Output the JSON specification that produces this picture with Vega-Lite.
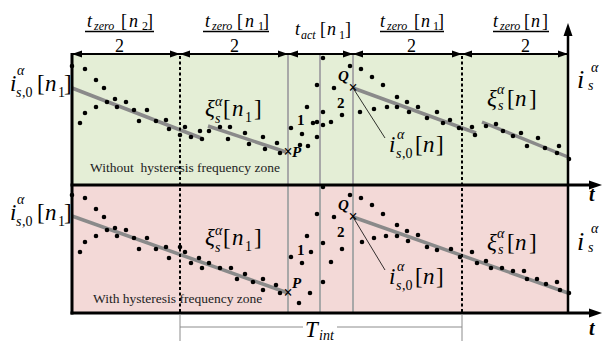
{
 "$schema": "https://vega.github.io/schema/vega-lite/v6.json",
 "width": 606, "height": 346, "padding": 0, "autosize": {"type": "none"},
 "background": "white",
 "config": {"view": {"stroke": null}, "text": {"font": "Liberation Serif, Times New Roman, serif"}},
 "datasets": {
  "zones": [
   {"zone": "without", "x": 72, "x2": 568, "y": 54, "y2": 185},
   {"zone": "with", "x": 72, "x2": 568, "y": 185, "y2": 313}
  ],
  "lines": [
   {"k": "fit", "x": 72, "y": 88, "x2": 201, "y2": 138},
   {"k": "fit", "x": 208, "y": 126, "x2": 286, "y2": 152},
   {"k": "fit", "x": 353, "y": 88, "x2": 476, "y2": 133},
   {"k": "fit", "x": 482, "y": 122, "x2": 568, "y2": 157},
   {"k": "fit", "x": 72, "y": 216, "x2": 288, "y2": 293},
   {"k": "fit", "x": 353, "y": 217, "x2": 568, "y2": 293},
   {"k": "gray", "x": 288, "y": 55, "x2": 288, "y2": 312},
   {"k": "gray", "x": 320, "y": 55, "x2": 320, "y2": 312},
   {"k": "gray", "x": 353, "y": 55, "x2": 353, "y2": 312},
   {"k": "dot", "x": 180, "y": 56, "x2": 180, "y2": 312},
   {"k": "dot", "x": 462, "y": 56, "x2": 462, "y2": 312},
   {"k": "thick", "x": 72, "y": 53, "x2": 72, "y2": 314.5},
   {"k": "thick", "x": 70.5, "y": 185, "x2": 596, "y2": 185},
   {"k": "thick", "x": 70.5, "y": 313, "x2": 596, "y2": 313},
   {"k": "axis", "x": 568, "y": 314, "x2": 568, "y2": 30},
   {"k": "dim", "x": 72, "y": 54, "x2": 568, "y2": 54},
   {"k": "thin", "x": 353, "y": 88, "x2": 385, "y2": 138},
   {"k": "thin", "x": 353, "y": 217, "x2": 385, "y2": 270},
   {"k": "bar", "x": 85, "y": 31.5, "x2": 154, "y2": 31.5},
   {"k": "bar", "x": 203, "y": 31.5, "x2": 269, "y2": 31.5},
   {"k": "bar", "x": 380, "y": 31.5, "x2": 444, "y2": 31.5},
   {"k": "bar", "x": 493, "y": 31.5, "x2": 549, "y2": 31.5},
   {"k": "tint", "x": 180, "y": 314, "x2": 180, "y2": 341},
   {"k": "tint", "x": 462, "y": 314, "x2": 462, "y2": 341},
   {"k": "tint", "x": 180, "y": 327, "x2": 303, "y2": 327},
   {"k": "tint", "x": 337, "y": 327, "x2": 462, "y2": 327}
  ],
  "dots": [
   {"x":72,"y":66},{"x":85,"y":69},{"x":96,"y":80},{"x":104,"y":88},{"x":80,"y":123},{"x":85,"y":113},{"x":96,"y":107},{"x":107,"y":102},{"x":115,"y":99},{"x":126,"y":102},{"x":117,"y":107},{"x":134,"y":110},{"x":147,"y":110},{"x":139,"y":121},{"x":156,"y":121},{"x":166,"y":120},{"x":169,"y":129},{"x":180,"y":135},{"x":185,"y":127},{"x":191,"y":137},{"x":200,"y":131},{"x":202,"y":139},{"x":209,"y":131},{"x":220,"y":127},{"x":230,"y":127},{"x":228,"y":139},{"x":245,"y":133},{"x":249,"y":144},{"x":263,"y":137},{"x":265,"y":149},{"x":277,"y":143},{"x":280,"y":153},
   {"x":291,"y":128},{"x":302,"y":134},{"x":300,"y":145},{"x":308,"y":146},{"x":307,"y":107},{"x":313,"y":123},{"x":317,"y":122},{"x":317,"y":137},{"x":317,"y":85},{"x":323,"y":58},{"x":323,"y":112},{"x":323,"y":125},{"x":331,"y":122},{"x":334,"y":88},{"x":342,"y":115},{"x":350,"y":66},
   {"x":361,"y":69},{"x":372,"y":77},{"x":383,"y":85},{"x":397,"y":97},{"x":407,"y":102},{"x":418,"y":107},{"x":427,"y":118},{"x":437,"y":112},{"x":443,"y":123},{"x":450,"y":120},{"x":459,"y":128},{"x":472,"y":127},{"x":475,"y":135},{"x":360,"y":112},{"x":374,"y":109},{"x":387,"y":107},{"x":397,"y":107},{"x":409,"y":112},
   {"x":486,"y":126},{"x":496,"y":124},{"x":503,"y":131},{"x":513,"y":136},{"x":521,"y":133},{"x":527,"y":146},{"x":538,"y":138},{"x":545,"y":148},{"x":559,"y":146},{"x":557,"y":153},{"x":569,"y":159},
   {"x":72,"y":195},{"x":85,"y":198},{"x":96,"y":209},{"x":104,"y":217},{"x":80,"y":252},{"x":85,"y":242},{"x":96,"y":236},{"x":107,"y":230},{"x":115,"y":228},{"x":126,"y":230},{"x":117,"y":236},{"x":134,"y":238},{"x":147,"y":238},{"x":139,"y":249},{"x":156,"y":249},{"x":166,"y":247},{"x":169,"y":258},{"x":180,"y":247},{"x":185,"y":252},{"x":191,"y":263},{"x":199,"y":258},{"x":202,"y":268},{"x":209,"y":263},{"x":220,"y":268},{"x":231,"y":268},{"x":237,"y":279},{"x":245,"y":274},{"x":253,"y":282},{"x":263,"y":279},{"x":263,"y":290},{"x":276,"y":285},{"x":280,"y":293},
   {"x":291,"y":257},{"x":302,"y":263},{"x":299,"y":303},{"x":310,"y":293},{"x":307,"y":236},{"x":311,"y":252},{"x":317,"y":214},{"x":323,"y":187},{"x":323,"y":243},{"x":323,"y":282},{"x":331,"y":262},{"x":334,"y":217},{"x":342,"y":249},{"x":350,"y":195},
   {"x":361,"y":198},{"x":372,"y":205},{"x":383,"y":214},{"x":397,"y":225},{"x":407,"y":231},{"x":418,"y":235},{"x":427,"y":247},{"x":437,"y":250},{"x":451,"y":249},{"x":460,"y":257},{"x":472,"y":252},{"x":477,"y":263},{"x":486,"y":261},{"x":491,"y":268},{"x":502,"y":268},{"x":513,"y":271},{"x":524,"y":271},{"x":527,"y":279},{"x":537,"y":279},{"x":546,"y":284},{"x":557,"y":282},{"x":560,"y":290},{"x":569,"y":293},{"x":362,"y":242},{"x":374,"y":238},{"x":386,"y":236},{"x":397,"y":236},{"x":408,"y":241}
  ],
  "arrows": [
   {"d": "l", "x": 72, "y": 54}, {"d": "r", "x": 180, "y": 54}, {"d": "l", "x": 180, "y": 54},
   {"d": "r", "x": 288, "y": 54}, {"d": "l", "x": 288, "y": 54}, {"d": "r", "x": 353, "y": 54},
   {"d": "l", "x": 353, "y": 54}, {"d": "r", "x": 462, "y": 54}, {"d": "l", "x": 462, "y": 54},
   {"d": "r", "x": 568, "y": 54},
   {"d": "R", "x": 602, "y": 185}, {"d": "R", "x": 602, "y": 313}, {"d": "U", "x": 568, "y": 23}
  ],
  "texts": [
   {"k":"m18","x":87,"y":27,"t":"t"},{"k":"s12","x":94,"y":29.5,"t":"zero"},{"k":"r18","x":121,"y":27,"t":"["},{"k":"m18","x":129,"y":27,"t":"n"},{"k":"sr12","x":142,"y":30,"t":"2"},{"k":"r18","x":147,"y":27,"t":"]"},{"k":"r18","x":115,"y":51.5,"t":"2"},
   {"k":"m18","x":205,"y":27,"t":"t"},{"k":"s12","x":212,"y":29.5,"t":"zero"},{"k":"r18","x":237,"y":27,"t":"["},{"k":"m18","x":245,"y":27,"t":"n"},{"k":"sr12","x":258,"y":30,"t":"1"},{"k":"r18","x":263,"y":27,"t":"]"},{"k":"r18","x":230,"y":51.5,"t":"2"},
   {"k":"m18","x":295,"y":35,"t":"t"},{"k":"s12","x":301,"y":38.5,"t":"act"},{"k":"r18","x":320,"y":35,"t":"["},{"k":"m18","x":327,"y":35,"t":"n"},{"k":"sr12","x":339,"y":38.5,"t":"1"},{"k":"r18","x":345,"y":35,"t":"]"},
   {"k":"m18","x":380,"y":27,"t":"t"},{"k":"s12","x":387,"y":29.5,"t":"zero"},{"k":"r18","x":414,"y":27,"t":"["},{"k":"m18","x":421,"y":27,"t":"n"},{"k":"sr12","x":433,"y":30,"t":"1"},{"k":"r18","x":438,"y":27,"t":"]"},{"k":"r18","x":407,"y":51.5,"t":"2"},
   {"k":"m18","x":493,"y":27,"t":"t"},{"k":"s12","x":500,"y":29.5,"t":"zero"},{"k":"r18","x":524,"y":27,"t":"["},{"k":"m18","x":531,"y":27,"t":"n"},{"k":"r18","x":542,"y":27,"t":"]"},{"k":"r18","x":521,"y":51.5,"t":"2"},
   {"k":"m23","x":10,"y":91,"t":"i"},{"k":"s14","x":17,"y":75,"t":"α"},{"k":"s14","x":16,"y":97,"t":"s"},{"k":"sr14","x":22,"y":97,"t":",0"},{"k":"r23","x":37,"y":91,"t":"["},{"k":"m23","x":45,"y":91,"t":"n"},{"k":"sr14","x":58,"y":97,"t":"1"},{"k":"r23","x":64,"y":91,"t":"]"},
   {"k":"m23","x":10,"y":220,"t":"i"},{"k":"s14","x":17,"y":204,"t":"α"},{"k":"s14","x":16,"y":226,"t":"s"},{"k":"sr14","x":22,"y":226,"t":",0"},{"k":"r23","x":37,"y":220,"t":"["},{"k":"m23","x":45,"y":220,"t":"n"},{"k":"sr14","x":58,"y":226,"t":"1"},{"k":"r23","x":64,"y":220,"t":"]"},
   {"k":"m23","x":205,"y":116,"t":"ξ"},{"k":"s14","x":215,"y":106,"t":"α"},{"k":"s14","x":215,"y":123,"t":"s"},{"k":"r23","x":223,"y":116,"t":"["},{"k":"m23","x":232,"y":116,"t":"n"},{"k":"sr14","x":245,"y":122,"t":"1"},{"k":"r23","x":254,"y":116,"t":"]"},
   {"k":"m23","x":205,"y":245,"t":"ξ"},{"k":"s14","x":215,"y":235,"t":"α"},{"k":"s14","x":215,"y":252,"t":"s"},{"k":"r23","x":223,"y":245,"t":"["},{"k":"m23","x":232,"y":245,"t":"n"},{"k":"sr14","x":245,"y":251,"t":"1"},{"k":"r23","x":254,"y":245,"t":"]"},
   {"k":"m23","x":487,"y":106,"t":"ξ"},{"k":"s14","x":497,"y":94,"t":"α"},{"k":"s14","x":498,"y":110,"t":"s"},{"k":"r23","x":507,"y":106,"t":"["},{"k":"m23","x":515,"y":106,"t":"n"},{"k":"r23","x":529,"y":106,"t":"]"},
   {"k":"m23","x":487,"y":250,"t":"ξ"},{"k":"s14","x":497,"y":238,"t":"α"},{"k":"s14","x":498,"y":254,"t":"s"},{"k":"r23","x":507,"y":250,"t":"["},{"k":"m23","x":515,"y":250,"t":"n"},{"k":"r23","x":529,"y":250,"t":"]"},
   {"k":"m23","x":389,"y":152,"t":"i"},{"k":"s14","x":397,"y":139,"t":"α"},{"k":"s14","x":396,"y":158,"t":"s"},{"k":"sr14","x":402,"y":158,"t":",0"},{"k":"r23","x":415,"y":152,"t":"["},{"k":"m23","x":423,"y":152,"t":"n"},{"k":"r23","x":436,"y":152,"t":"]"},
   {"k":"m23","x":389,"y":284,"t":"i"},{"k":"s14","x":397,"y":271,"t":"α"},{"k":"s14","x":396,"y":290,"t":"s"},{"k":"sr14","x":402,"y":290,"t":",0"},{"k":"r23","x":415,"y":284,"t":"["},{"k":"m23","x":423,"y":284,"t":"n"},{"k":"r23","x":436,"y":284,"t":"]"},
   {"k":"big","x":577,"y":88,"t":"i"},{"k":"s14","x":591,"y":72,"t":"α"},{"k":"s14","x":588,"y":90,"t":"s"},
   {"k":"big","x":577,"y":250,"t":"i"},{"k":"s14","x":591,"y":233,"t":"α"},{"k":"s14","x":588,"y":252,"t":"s"},
   {"k":"ax","x":589,"y":201,"t":"t"},{"k":"ax","x":589,"y":335,"t":"t"},
   {"k":"bi","x":292,"y":157,"t":"P"},{"k":"bi","x":292,"y":288,"t":"P"},{"k":"bi","x":338,"y":81,"t":"Q"},{"k":"bi","x":338,"y":210,"t":"Q"},
   {"k":"b","x":297,"y":125,"t":"1"},{"k":"b","x":337,"y":108,"t":"2"},{"k":"b","x":297,"y":255,"t":"1"},{"k":"b","x":337,"y":237,"t":"2"},
   {"k":"z","x":90,"y":172,"t":"Without\u00a0 hysteresis frequency zone"},{"k":"z","x":93,"y":303,"t":"With hysteresis frequency zone"},
   {"k":"m23","x":305,"y":337,"t":"T"},{"k":"s14","x":319,"y":340,"t":"int"},
   {"k":"x","x":288,"y":152,"t":"×"},{"k":"x","x":288,"y":293,"t":"×"},{"k":"x","x":353,"y":88,"t":"×"},{"k":"x","x":353,"y":217,"t":"×"}
  ]
 },
 "encoding": {
  "x": {"field": "x", "type": "quantitative", "scale": {"domain": [0, 606], "nice": false, "zero": false}, "axis": null},
  "y": {"field": "y", "type": "quantitative", "scale": {"domain": [0, 346], "nice": false, "zero": false, "reverse": true}, "axis": null}
 },
 "layer": [
  {"data": {"name": "zones"}, "mark": {"type": "rect"}, "encoding": {"x2": {"field": "x2"}, "y2": {"field": "y2"}, "color": {"field": "zone", "type": "nominal", "scale": {"domain": ["without", "with"], "range": ["#e4eed6", "#f3d9d7"]}, "legend": null}}},
  {"data": {"name": "lines"}, "transform": [{"filter": "datum.k === 'fit'"}], "mark": {"type": "rule", "color": "#8a8a8a", "strokeWidth": 3.5}, "encoding": {"x2": {"field": "x2"}, "y2": {"field": "y2"}}},
  {"data": {"name": "lines"}, "transform": [{"filter": "datum.k === 'gray'"}], "mark": {"type": "rule", "color": "#a8a8a8", "strokeWidth": 2}, "encoding": {"x2": {"field": "x2"}, "y2": {"field": "y2"}}},
  {"data": {"name": "lines"}, "transform": [{"filter": "datum.k === 'dot'"}], "mark": {"type": "rule", "color": "black", "strokeWidth": 2, "strokeDash": [3, 2.5]}, "encoding": {"x2": {"field": "x2"}, "y2": {"field": "y2"}}},
  {"data": {"name": "lines"}, "transform": [{"filter": "datum.k === 'thick'"}], "mark": {"type": "rule", "color": "black", "strokeWidth": 3}, "encoding": {"x2": {"field": "x2"}, "y2": {"field": "y2"}}},
  {"data": {"name": "lines"}, "transform": [{"filter": "datum.k === 'axis'"}], "mark": {"type": "rule", "color": "black", "strokeWidth": 2.5}, "encoding": {"x2": {"field": "x2"}, "y2": {"field": "y2"}}},
  {"data": {"name": "lines"}, "transform": [{"filter": "datum.k === 'dim'"}], "mark": {"type": "rule", "color": "black", "strokeWidth": 2}, "encoding": {"x2": {"field": "x2"}, "y2": {"field": "y2"}}},
  {"data": {"name": "lines"}, "transform": [{"filter": "datum.k === 'bar'"}], "mark": {"type": "rule", "color": "black", "strokeWidth": 1.5}, "encoding": {"x2": {"field": "x2"}, "y2": {"field": "y2"}}},
  {"data": {"name": "lines"}, "transform": [{"filter": "datum.k === 'thin'"}], "mark": {"type": "rule", "color": "black", "strokeWidth": 0.8}, "encoding": {"x2": {"field": "x2"}, "y2": {"field": "y2"}}},
  {"data": {"name": "lines"}, "transform": [{"filter": "datum.k === 'tint'"}], "mark": {"type": "rule", "color": "#8c8c8c", "strokeWidth": 1}, "encoding": {"x2": {"field": "x2"}, "y2": {"field": "y2"}}},
  {"data": {"name": "dots"}, "mark": {"type": "circle", "size": 21, "color": "black", "opacity": 1}},
  {"data": {"name": "arrows"}, "mark": {"type": "point", "filled": true, "size": 100, "color": "black", "opacity": 1, "strokeWidth": 0}, "encoding": {"shape": {"field": "d", "type": "nominal", "scale": {"domain": ["r", "l", "R", "U"], "range": ["M0,0L-2,-0.7L-2,0.7Z", "M0,0L2,-0.7L2,0.7Z", "M0,0L-2.6,-0.9L-2.6,0.9Z", "M0,0L-0.9,2.6L0.9,2.6Z"]}, "legend": null}}},
  {"data": {"name": "texts"}, "transform": [{"filter": "datum.k === 'x'"}], "mark": {"type": "text", "fontSize": 16, "fontWeight": "bold", "align": "center", "baseline": "middle", "color": "black"}, "encoding": {"text": {"field": "t"}}},
  {"data": {"name": "texts"}, "transform": [{"filter": "datum.k === 'm18'"}], "mark": {"type": "text", "fontSize": 18, "fontStyle": "italic", "align": "left", "baseline": "alphabetic", "color": "black"}, "encoding": {"text": {"field": "t"}}},
  {"data": {"name": "texts"}, "transform": [{"filter": "datum.k === 'r18'"}], "mark": {"type": "text", "fontSize": 18, "align": "left", "baseline": "alphabetic", "color": "black"}, "encoding": {"text": {"field": "t"}}},
  {"data": {"name": "texts"}, "transform": [{"filter": "datum.k === 's12'"}], "mark": {"type": "text", "fontSize": 12, "fontStyle": "italic", "align": "left", "baseline": "alphabetic", "color": "black"}, "encoding": {"text": {"field": "t"}}},
  {"data": {"name": "texts"}, "transform": [{"filter": "datum.k === 'sr12'"}], "mark": {"type": "text", "fontSize": 12, "align": "left", "baseline": "alphabetic", "color": "black"}, "encoding": {"text": {"field": "t"}}},
  {"data": {"name": "texts"}, "transform": [{"filter": "datum.k === 'm23'"}], "mark": {"type": "text", "fontSize": 23, "fontStyle": "italic", "align": "left", "baseline": "alphabetic", "color": "black"}, "encoding": {"text": {"field": "t"}}},
  {"data": {"name": "texts"}, "transform": [{"filter": "datum.k === 'r23'"}], "mark": {"type": "text", "fontSize": 23, "align": "left", "baseline": "alphabetic", "color": "black"}, "encoding": {"text": {"field": "t"}}},
  {"data": {"name": "texts"}, "transform": [{"filter": "datum.k === 's14'"}], "mark": {"type": "text", "fontSize": 14, "fontStyle": "italic", "align": "left", "baseline": "alphabetic", "color": "black"}, "encoding": {"text": {"field": "t"}}},
  {"data": {"name": "texts"}, "transform": [{"filter": "datum.k === 'sr14'"}], "mark": {"type": "text", "fontSize": 14, "align": "left", "baseline": "alphabetic", "color": "black"}, "encoding": {"text": {"field": "t"}}},
  {"data": {"name": "texts"}, "transform": [{"filter": "datum.k === 'big'"}], "mark": {"type": "text", "fontSize": 26, "fontStyle": "italic", "align": "left", "baseline": "alphabetic", "color": "black"}, "encoding": {"text": {"field": "t"}}},
  {"data": {"name": "texts"}, "transform": [{"filter": "datum.k === 'ax'"}], "mark": {"type": "text", "fontSize": 20, "fontStyle": "italic", "fontWeight": "bold", "align": "left", "baseline": "alphabetic", "color": "black"}, "encoding": {"text": {"field": "t"}}},
  {"data": {"name": "texts"}, "transform": [{"filter": "datum.k === 'bi'"}], "mark": {"type": "text", "fontSize": 15, "fontStyle": "italic", "fontWeight": "bold", "align": "left", "baseline": "alphabetic", "color": "black"}, "encoding": {"text": {"field": "t"}}},
  {"data": {"name": "texts"}, "transform": [{"filter": "datum.k === 'b'"}], "mark": {"type": "text", "fontSize": 15, "fontWeight": "bold", "align": "left", "baseline": "alphabetic", "color": "black"}, "encoding": {"text": {"field": "t"}}},
  {"data": {"name": "texts"}, "transform": [{"filter": "datum.k === 'z'"}], "mark": {"type": "text", "fontSize": 13.5, "align": "left", "baseline": "alphabetic", "color": "#222222"}, "encoding": {"text": {"field": "t"}}}
 ]
}
